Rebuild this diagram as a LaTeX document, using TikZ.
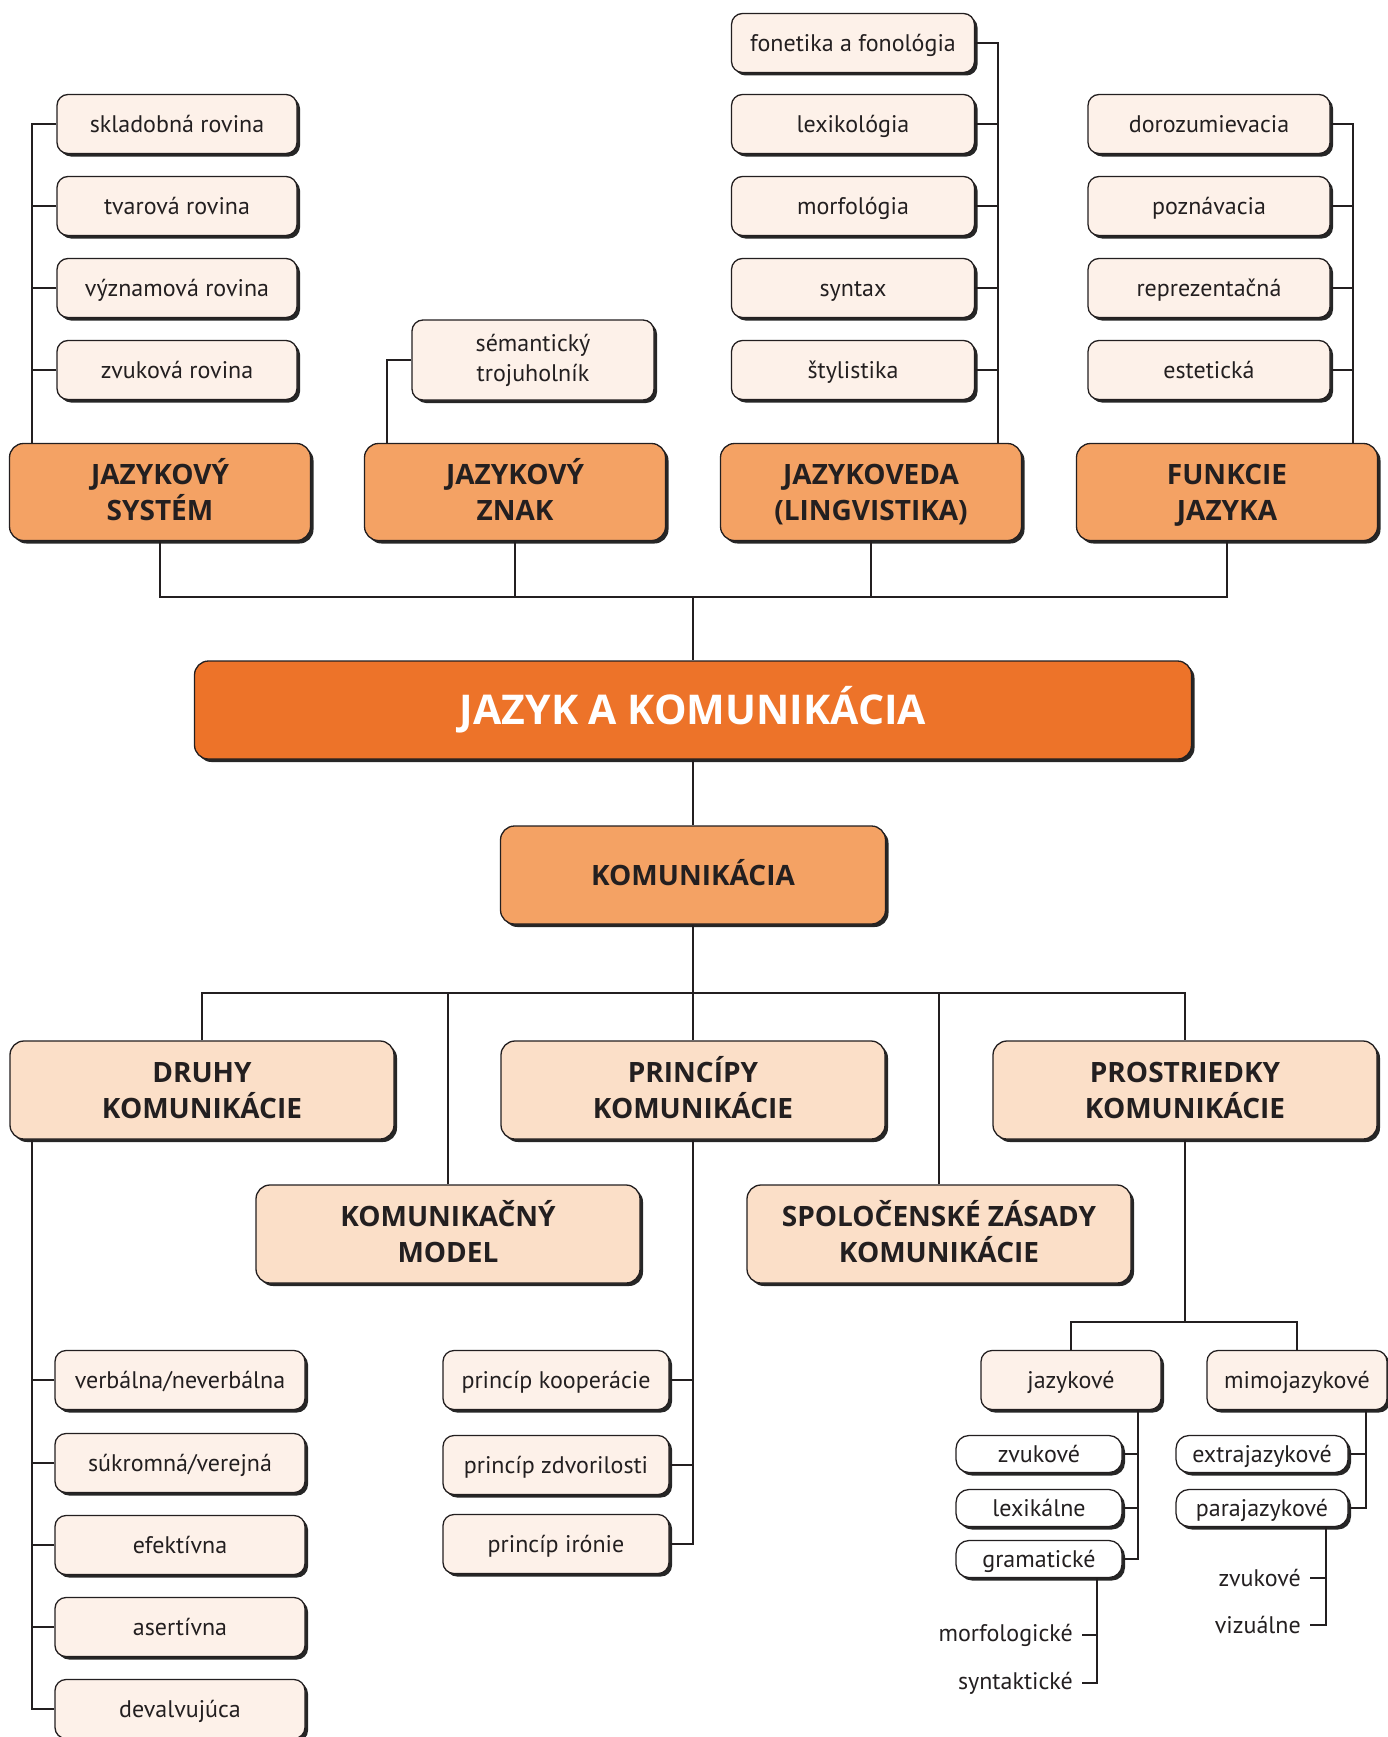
\documentclass[tikz,border=0pt]{standalone}
\usepackage{fontspec}
\setmainfont{PT Sans}
\newfontfamily\hfont{Open Sans}
\usetikzlibrary{shadows}
\definecolor{lineC}{HTML}{231F20}
\definecolor{bigC}{HTML}{ED7329}
\definecolor{topC}{HTML}{F4A264}
\definecolor{midC}{HTML}{FBDFC8}
\definecolor{itemC}{HTML}{FDF1E9}
% caps-only height boxes so every heading is centred on its capitals
\newcommand\capline[1]{\raisebox{0pt}[20pt][0pt]{#1}}
\newcommand\hd[2]{\capline{#1}\\\capline{#2}}
\begin{document}
\begin{tikzpicture}[x=1pt,y=-1pt,
  base/.style={draw=lineC, line width=1.3pt, align=center, inner sep=0pt, text=lineC,
     drop shadow={shadow xshift=3pt, shadow yshift=-3pt, opacity=1, fill=black!85}},
  regfont/.style={font=\fontsize{24}{28.5}\selectfont},
  itembox/.style={base, regfont, fill=itemC, minimum height=59pt, rounded corners=11pt,
     text height=17pt, text depth=0pt},
  itembox2/.style={base, font=\fontsize{24}{30}\selectfont, fill=itemC, rounded corners=11pt},
  wbox/.style={base, regfont, fill=white, minimum height=37pt, rounded corners=13pt,
     text height=17pt, text depth=0pt},
  headtext/.style={font=\hfont\bfseries\fontsize{28}{36}\selectfont},
  topbox/.style={base, headtext, fill=topC, minimum width=301pt, minimum height=97pt, rounded corners=14pt},
  midbox/.style={base, headtext, fill=midC, minimum width=384pt, minimum height=98pt, rounded corners=14pt},
  bigbox/.style={base, fill=bigC, text=white, rounded corners=14pt,
     font=\hfont\bfseries\fontsize{41}{48}\selectfont},
  lbl/.style={regfont, anchor=east, inner ysep=0pt, inner xsep=9pt, text=lineC},
  conn/.style={draw=lineC, line width=2.8pt}]
\useasboundingbox (0,0) rectangle (1387,1737);

% ---- top level: jazykový systém
\node[itembox, minimum width=240pt] (s1) at (177,124) {skladobná rovina};
\node[itembox, minimum width=240pt] (s2) at (177,206) {tvarová rovina};
\node[itembox, minimum width=240pt] (s3) at (177,288) {významová rovina};
\node[itembox, minimum width=240pt] (s4) at (177,370) {zvuková rovina};
\node[topbox] (js) at (160,492) {\hd{JAZYKOVÝ}{SYSTÉM}};

% ---- jazykový znak
\node[itembox2, minimum width=242pt, minimum height=80pt] (sem) at (533,360) {sémantický\\trojuholník};
\node[topbox] (zn) at (515,492) {\hd{JAZYKOVÝ}{ZNAK}};

% ---- jazykoveda
\node[itembox, minimum width=243pt] (l1) at (853,43) {fonetika a fonológia};
\node[itembox, minimum width=243pt] (l2) at (853,124) {lexikológia};
\node[itembox, minimum width=243pt] (l3) at (853,206) {morfológia};
\node[itembox, minimum width=243pt] (l4) at (853,288) {syntax};
\node[itembox, minimum width=243pt] (l5) at (853,370) {štylistika};
\node[topbox] (jv) at (871,492) {\hd{JAZYKOVEDA}{(LINGVISTIKA)}};

% ---- funkcie jazyka
\node[itembox, minimum width=242pt] (f1) at (1209,124) {dorozumievacia};
\node[itembox, minimum width=242pt] (f2) at (1209,206) {poznávacia};
\node[itembox, minimum width=242pt] (f3) at (1209,288) {reprezentačná};
\node[itembox, minimum width=242pt] (f4) at (1209,370) {estetická};
\node[topbox] (fj) at (1227,492) {\hd{FUNKCIE}{JAZYKA}};

% ---- center
\node[bigbox, minimum width=997pt, minimum height=98pt] (jak) at (693,710) {\raisebox{0pt}[29pt][0pt]{JAZYK A KOMUNIKÁCIA}};
\node[topbox, minimum width=385pt, minimum height=98pt] (kom) at (693,875) {\capline{KOMUNIKÁCIA}};

% ---- second level
\node[midbox] (dr) at (202,1090) {\hd{DRUHY}{KOMUNIKÁCIE}};
\node[midbox] (pr) at (693,1090) {\hd{PRINCÍPY}{KOMUNIKÁCIE}};
\node[midbox] (ps) at (1185,1090) {\hd{PROSTRIEDKY}{KOMUNIKÁCIE}};
\node[midbox] (mo) at (448,1234) {\hd{KOMUNIKAČNÝ}{MODEL}};
\node[midbox] (sp) at (939,1234) {\hd{SPOLOČENSKÉ ZÁSADY}{KOMUNIKÁCIE}};

% ---- druhy
\node[itembox, minimum width=250pt] (d1) at (180,1380) {verbálna/neverbálna};
\node[itembox, minimum width=250pt] (d2) at (180,1463) {súkromná/verejná};
\node[itembox, minimum width=250pt] (d3) at (180,1545) {efektívna};
\node[itembox, minimum width=250pt] (d4) at (180,1627) {asertívna};
\node[itembox, minimum width=250pt] (d5) at (180,1709) {devalvujúca};

% ---- princípy
\node[itembox, minimum width=226pt] (p1) at (556,1380) {princíp kooperácie};
\node[itembox, minimum width=226pt] (p2) at (556,1465) {princíp zdvorilosti};
\node[itembox, minimum width=226pt] (p3) at (556,1544) {princíp irónie};

% ---- prostriedky
\node[itembox, minimum width=180pt] (jz) at (1071,1380) {jazykové};
\node[itembox, minimum width=180pt] (mj) at (1297,1380) {mimojazykové};
\node[wbox, minimum width=166pt] (zv) at (1039,1454) {zvukové};
\node[wbox, minimum width=166pt] (lx) at (1039,1508) {lexikálne};
\node[wbox, minimum width=166pt] (gr) at (1039,1559) {gramatické};
\node[lbl] (mf) at (1082,1635) {morfologické};
\node[lbl] (sy) at (1082,1683) {syntaktické};
\node[wbox, minimum width=172pt] (ex) at (1262,1454) {extrajazykové};
\node[wbox, minimum width=172pt] (pa) at (1262,1508) {parajazykové};
\node[lbl] (zv2) at (1310,1578) {zvukové};
\node[lbl] (vz) at (1310,1625) {vizuálne};

% ---- bus coordinates
\coordinate (jsb) at (32,0);
\coordinate (znb) at (387,0);
\coordinate (jvb) at (998,0);
\coordinate (fjb) at (1353,0);
\coordinate (topbus) at (693,597);
\coordinate (midbus) at (693,993);
\coordinate (drb) at (32,0);
\coordinate (pbus) at (1185,1322);
\coordinate (jzb) at (1138,0);
\coordinate (grb) at (1097,0);
\coordinate (mjb) at (1366,0);
\coordinate (pab) at (1326,0);

% ---- connectors top
\draw[conn] (s1.west) -| (js.north -| jsb);
\foreach \n in {s2,s3,s4} \draw[conn] (\n.west) -- (\n.west -| jsb);
\draw[conn] (sem.west) -| (zn.north -| znb);
\draw[conn] (l1.east) -| (jv.north -| jvb);
\foreach \n in {l2,l3,l4,l5} \draw[conn] (\n.east) -- (\n.east -| jvb);
\draw[conn] (f1.east) -| (fj.north -| fjb);
\foreach \n in {f2,f3,f4} \draw[conn] (\n.east) -- (\n.east -| fjb);
\draw[conn] (js.south) |- (fj.south |- topbus) -- (fj.south);
\draw[conn] (zn.south) -- (zn.south |- topbus);
\draw[conn] (jv.south) -- (jv.south |- topbus);
\draw[conn] (topbus) -- (jak.north);

% ---- center
\draw[conn] (jak.south) -- (kom.north);
\draw[conn] (kom.south) -- (midbus);
\draw[conn] (dr.north) |- (ps.north |- midbus) -- (ps.north);
\draw[conn] (mo.north) -- (mo.north |- midbus);
\draw[conn] (pr.north) -- (pr.north |- midbus);
\draw[conn] (sp.north) -- (sp.north |- midbus);

% ---- druhy
\draw[conn] (dr.south -| drb) |- (d5.west);
\foreach \n in {d1,d2,d3,d4} \draw[conn] (\n.west) -- (\n.west -| drb);

% ---- princípy
\draw[conn] (pr.south) |- (p3.east);
\foreach \n in {p1,p2} \draw[conn] (\n.east) -- (\n.east -| pr.south);

% ---- prostriedky
\draw[conn] (ps.south) -- (pbus);
\draw[conn] (jz.north) |- (mj.north |- pbus) -- (mj.north);
\draw[conn] (jz.south -| jzb) |- (gr.east);
\foreach \n in {zv,lx} \draw[conn] (\n.east) -- (\n.east -| jzb);
\draw[conn] (gr.south -| grb) |- (sy.east);
\draw[conn] (mf.east) -- (mf.east -| grb);
\draw[conn] (mj.south -| mjb) |- (pa.east);
\draw[conn] (ex.east) -- (ex.east -| mjb);
\draw[conn] (pa.south -| pab) |- (vz.east);
\draw[conn] (zv2.east) -- (zv2.east -| pab);
\end{tikzpicture}
\end{document}
